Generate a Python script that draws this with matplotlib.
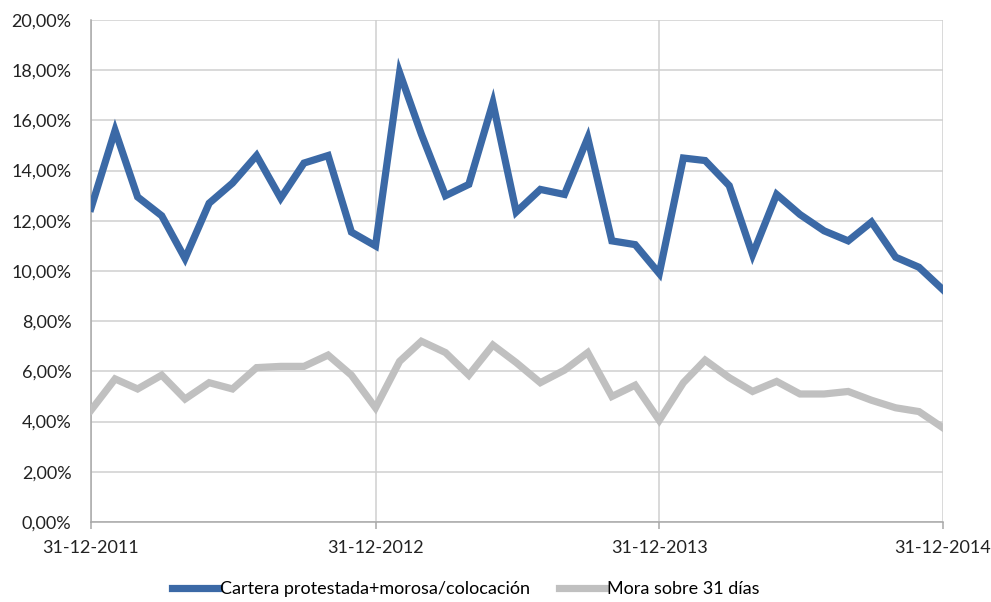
import matplotlib
matplotlib.use("Agg")
import matplotlib.pyplot as plt
import pandas as pd

# Fechas: fin de mes, dic-2011 a dic-2014
fechas = pd.date_range("2011-12-31", periods=37, freq="ME")

cartera = [12.5, 15.6, 12.95, 12.2, 10.5, 12.7, 13.5, 14.6, 12.9, 14.3, 14.6, 11.55,
           11.0, 17.9, 15.45, 13.0, 13.45, 16.7, 12.35, 13.25, 13.05, 15.3, 11.2, 11.05,
           9.9, 14.5, 14.4, 13.4, 10.65, 13.05, 12.25, 11.6, 11.2, 11.95, 10.55, 10.15,
           9.25]
mora = [4.45, 5.7, 5.3, 5.85, 4.9, 5.55, 5.3, 6.15, 6.2, 6.2, 6.65, 5.85,
        4.55, 6.4, 7.2, 6.75, 5.85, 7.05, 6.35, 5.55, 6.05, 6.75, 5.0, 5.45,
        4.05, 5.55, 6.45, 5.75, 5.2, 5.6, 5.1, 5.1, 5.2, 4.85, 4.55, 4.4,
        3.75]

etiquetas_x = ["31-12-2011", "31-12-2012", "31-12-2013", "31-12-2014"]
fechas_x = pd.to_datetime(["2011-12-31", "2012-12-31", "2013-12-31", "2014-12-31"])
ticks_y = list(range(0, 21, 2))

plt.rcParams['font.family'] = ['Lato', 'DejaVu Sans']

fig = plt.figure(figsize=(9.91, 6.02), dpi=100)
ax = fig.add_axes([0.0918, 0.1329, 0.8598, 0.8339])

ax.plot(fechas, cartera, color='#3b69a6', linewidth=5.2,
        solid_joinstyle='miter', label='Cartera protestada+morosa/colocación', zorder=3)
ax.plot(fechas, mora, color='#c0c0c0', linewidth=5.2,
        solid_joinstyle='miter', label='Mora sobre 31 días', zorder=3)

ax.set_xlim(fechas[0], fechas[-1])
ax.set_ylim(0, 20)
ax.set_yticks(ticks_y)
ax.set_yticklabels([f"{v:.2f}%".replace('.', ',') for v in ticks_y])
ax.set_xticks(fechas_x)
ax.set_xticklabels(etiquetas_x)

ax.grid(True, color='#cfcfcf', linewidth=1.1)
for s in ['top', 'right']:
    ax.spines[s].set_visible(False)
for s in ['left', 'bottom']:
    ax.spines[s].set_color('#a8a8a8')
    ax.spines[s].set_linewidth(1.1)
ax.tick_params(axis='both', colors='#a8a8a8', labelcolor='#222222',
               labelsize=13, length=5, width=1.1)
ax.tick_params(axis='y', length=0, pad=14)
ax.tick_params(axis='x', pad=8)

ax.legend(loc='upper center', bbox_to_anchor=(0.44, -0.085), ncol=2, frameon=False,
          fontsize=13, handlelength=2.6, columnspacing=1.6, handletextpad=0.05)

fig.savefig("out.png", dpi=100)
